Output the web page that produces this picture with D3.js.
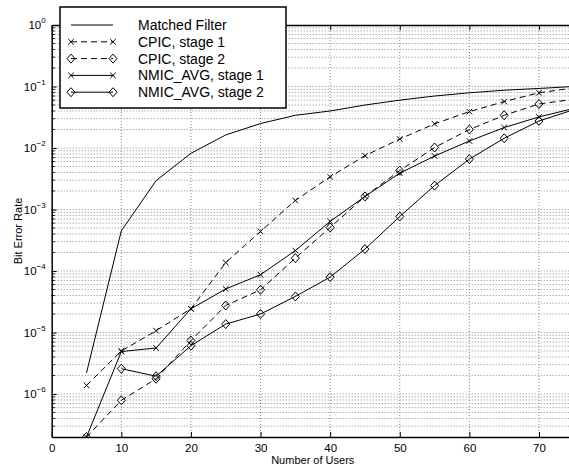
<!DOCTYPE html>
<html lang="en">
<head>
<meta charset="utf-8">
<title>Bit Error Rate vs Number of Users</title>
<script src="https://cdnjs.cloudflare.com/ajax/libs/d3/7.8.5/d3.min.js"></script>
<style>
  body { margin: 0; background: #fff; }
  svg { display: block; font-family: 'Liberation Sans', Arial, sans-serif; }
  .grid line { stroke: #888; stroke-dasharray: 1,2; stroke-width: 1; }
</style>
</head>
<body>
<svg id="chart" width="569" height="466"></svg>
<script>
// number of users (x)
var users = [5, 10, 15, 20, 25, 30, 35, 40, 45, 50, 55, 60, 65, 70, 75];

// bit error rates
var matchedFilter = [2.2e-6, 4.5e-4, 2.95e-3, 8.2e-3, 1.63e-2, 2.5e-2, 3.4e-2, 4.0e-2, 5.0e-2, 6.0e-2, 7.0e-2, 7.9e-2, 8.7e-2, 9.3e-2, 1.0e-1];
var cpic1 = [1.38e-6, 5.0e-6, 1.07e-5, 2.43e-5, 1.37e-4, 4.4e-4, 1.4e-3, 3.4e-3, 7.5e-3, 1.4e-2, 2.47e-2, 3.9e-2, 5.7e-2, 7.9e-2, 9.5e-2];
var cpic2 = [2e-7, 7.9e-7, 1.77e-6, 7.4e-6, 2.75e-5, 4.95e-5, 1.62e-4, 5.1e-4, 1.63e-3, 4.3e-3, 1.02e-2, 2.0e-2, 3.4e-2, 5.2e-2, 6.2e-2];
var nmic1 = [2e-7, 4.9e-6, 5.6e-6, 2.43e-5, 5.1e-5, 8.7e-5, 2.15e-4, 6.4e-4, 1.63e-3, 3.9e-3, 7.4e-3, 1.3e-2, 2.15e-2, 3.2e-2, 4.4e-2];
var nmic2 = [null, 2.58e-6, 1.95e-6, 6.1e-6, 1.37e-5, 2.0e-5, 3.86e-5, 7.96e-5, 2.27e-4, 7.7e-4, 2.45e-3, 6.6e-3, 1.44e-2, 2.75e-2, 4.2e-2];

var xTicks = [0, 10, 20, 30, 40, 50, 60, 70];
var yExponents = [0, -1, -2, -3, -4, -5, -6];

var series = [
  {name: "Matched Filter", values: matchedFilter, dash: null, marker: null},
  {name: "CPIC, stage 1", values: cpic1, dash: "6,4", marker: "x"},
  {name: "CPIC, stage 2", values: cpic2, dash: "6,4", marker: "diamond"},
  {name: "NMIC_AVG, stage 1", values: nmic1, dash: null, marker: "x"},
  {name: "NMIC_AVG, stage 2", values: nmic2, dash: null, marker: "diamond"}
];

var svg = d3.select("#chart");
var plotLeft = 51.7, plotRight = 573.8, plotTop = 25, plotBottom = 437;

var x = d3.scaleLinear().domain([0, 75]).range([plotLeft, plotRight]);
var y = d3.scaleLog().domain([2e-7, 1]).range([plotBottom, plotTop]);

svg.append("defs").append("clipPath").attr("id", "plotclip")
  .append("rect")
    .attr("x", plotLeft).attr("y", plotTop)
    .attr("width", plotRight - plotLeft).attr("height", plotBottom - plotTop);

// grid: x majors, y majors + minors
var yGridVals = [];
for (var e = -7; e <= 0; e++) {
  for (var k = 1; k <= 9; k++) {
    var v = k * Math.pow(10, e);
    if (v > 2.0001e-7 && v < 0.9999) yGridVals.push(v);
  }
}
var grid = svg.append("g").attr("class", "grid");
grid.selectAll(".gx").data(xTicks.filter(d => d > 0)).enter()
  .append("line")
    .attr("x1", d => x(d)).attr("x2", d => x(d))
    .attr("y1", plotTop).attr("y2", plotBottom);
grid.selectAll(".gy").data(yGridVals).enter()
  .append("line")
    .attr("x1", plotLeft).attr("x2", plotRight)
    .attr("y1", d => y(d)).attr("y2", d => y(d));

// axes (ticks pointing inward)
var xAxis = d3.axisBottom(x).tickValues(xTicks).tickSizeInner(-5).tickSizeOuter(0).tickPadding(7);
var gx = svg.append("g").attr("transform", "translate(0," + plotBottom + ")").call(xAxis);
gx.select(".domain").attr("stroke-width", 1.5);
gx.selectAll("text").attr("font-size", 11.5).attr("font-family", "'Liberation Sans', Arial, sans-serif").attr("fill", "#000");

svg.append("g").attr("transform", "translate(0," + plotTop + ")")
  .call(d3.axisTop(x).tickValues(xTicks).tickSizeInner(-5).tickSizeOuter(0).tickFormat(""))
  .select(".domain").attr("stroke-width", 1.5);

var yAxis = d3.axisLeft(y).tickValues(yExponents.map(e => Math.pow(10, e)))
  .tickSizeInner(-5).tickSizeOuter(0).tickPadding(8).tickFormat("");
var gy = svg.append("g").attr("transform", "translate(" + plotLeft + ",0)").call(yAxis);
gy.select(".domain").attr("stroke-width", 1.5);

// minor ticks on y
svg.append("g").selectAll("line").data(yGridVals.filter(v => Math.abs(Math.log10(v) - Math.round(Math.log10(v))) > 1e-6))
  .enter().append("line")
    .attr("x1", plotLeft).attr("x2", plotLeft + 3)
    .attr("y1", d => y(d)).attr("y2", d => y(d))
    .attr("stroke", "#000");

// y tick labels 10^n
var yl = svg.append("g").selectAll("text").data(yExponents).enter()
  .append("text")
    .attr("x", plotLeft - 6)
    .attr("y", d => y(Math.pow(10, d)) + 4)
    .attr("text-anchor", "end")
    .attr("font-size", 11.5);
yl.append("tspan").text("10");
yl.append("tspan").attr("dy", -6).attr("font-size", 8).text(d => d === 0 ? "0" : "\u2212" + (-d));

// axis labels
svg.append("text")
  .attr("x", (plotLeft + plotRight) / 2).attr("y", 464)
  .attr("text-anchor", "middle").attr("font-size", 11)
  .text("Number of Users");
svg.append("text")
  .attr("transform", "rotate(-90)")
  .attr("x", -(plotTop + plotBottom) / 2).attr("y", 22)
  .attr("text-anchor", "middle").attr("font-size", 11)
  .text("Bit Error Rate");

// series
var plot = svg.append("g").attr("clip-path", "url(#plotclip)");
var line = d3.line()
  .defined(d => d.v != null)
  .x(d => x(d.u)).y(d => y(d.v));

function drawMarker(g, type, cx, cy) {
  if (type === "x") {
    g.append("path")
      .attr("d", "M" + (cx - 2.8) + "," + (cy - 2.8) + "L" + (cx + 2.8) + "," + (cy + 2.8) +
                 "M" + (cx - 2.8) + "," + (cy + 2.8) + "L" + (cx + 2.8) + "," + (cy - 2.8))
      .attr("stroke", "#000").attr("stroke-width", 1).attr("fill", "none");
  } else if (type === "diamond") {
    g.append("path")
      .attr("d", "M" + cx + "," + (cy - 4.5) + "L" + (cx + 4) + "," + cy + "L" + cx + "," + (cy + 4.5) +
                 "L" + (cx - 4) + "," + cy + "Z")
      .attr("stroke", "#000").attr("stroke-width", 1).attr("fill", "none");
  }
}

series.forEach(function(s) {
  var pts = users.map((u, i) => ({u: u, v: s.values[i]}));
  plot.append("path")
    .datum(pts)
    .attr("d", line)
    .attr("fill", "none")
    .attr("stroke", "#000")
    .attr("stroke-width", 1)
    .attr("stroke-dasharray", s.dash);
  if (s.marker) {
    var mg = plot.append("g");
    pts.filter(p => p.v != null).forEach(p => drawMarker(mg, s.marker, x(p.u), y(p.v)));
  }
});

// legend
var lg = svg.append("g");
lg.append("rect")
  .attr("x", 60).attr("y", 7).attr("width", 226).attr("height", 101)
  .attr("fill", "#fff").attr("stroke", "#000").attr("stroke-width", 1.5);
series.forEach(function(s, i) {
  var ry = 25 + i * 16.8;
  lg.append("line")
    .attr("x1", 71).attr("x2", 113).attr("y1", ry).attr("y2", ry)
    .attr("stroke", "#000").attr("stroke-width", 1)
    .attr("stroke-dasharray", s.dash);
  if (s.marker) {
    drawMarker(lg, s.marker, 71, ry);
    drawMarker(lg, s.marker, 113, ry);
  }
  lg.append("text")
    .attr("x", 138).attr("y", ry + 5)
    .attr("font-size", 14)
    .text(s.name);
});
</script>
</body>
</html>
